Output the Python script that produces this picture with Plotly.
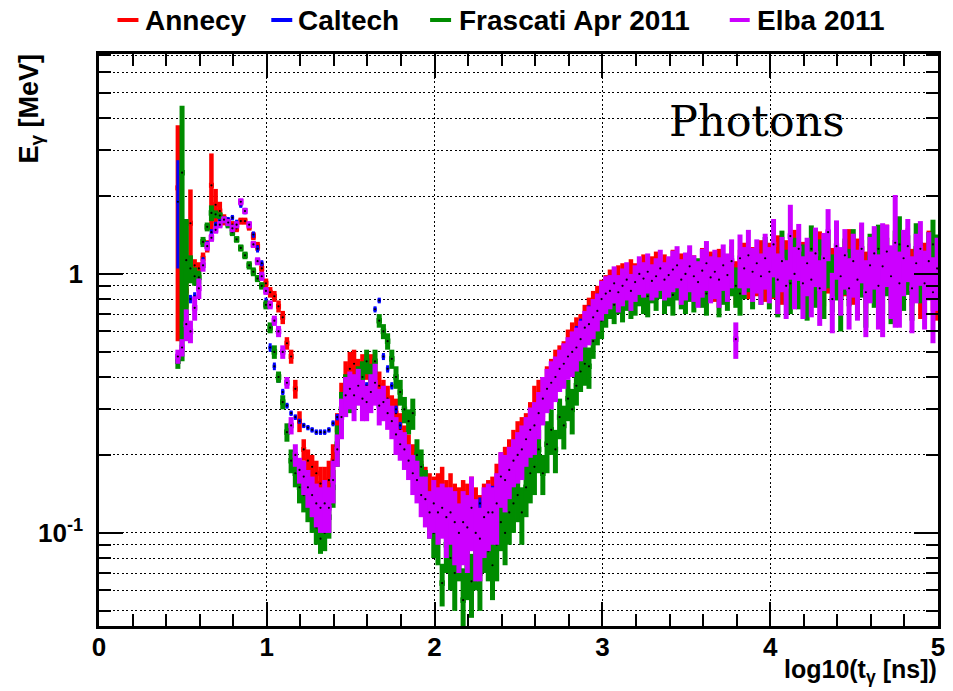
import plotly.graph_objects as go

# ---------------- data ----------------
# bin centres of log10(t [ns]) : 182 bins, 0.470 ... 4.995, step 0.025
X_START = 0.47
X_STEP = 0.025
N_BINS = 182
t_log = [round(X_START + X_STEP * i, 3) for i in range(N_BINS)]

series_names = ["Annecy", "Caltech", "Frascati Apr 2011", "Elba 2011"]

annecy_E = [
    2.15, 0.86, 0.86, 1.57, 1.08, 1.05, 1.15, 1.28, 2.20, 1.85,
    1.75, 1.62, 1.58, 1.55, 1.50, 1.60, 1.60, 1.52, 1.40, 1.28,
    1.05, 0.92, 0.85, 0.82, 0.75, 0.68, 0.54, 0.48, 0.36, 0.27,
    0.21, 0.19, 0.18, 0.17, 0.155, 0.15, 0.16, 0.19, 0.25, 0.33,
    0.40, 0.43, 0.45, 0.42, 0.43, 0.44, 0.43, 0.40, 0.37, 0.34,
    0.33, 0.30, 0.29, 0.25, 0.23, 0.21, 0.19, 0.17, 0.16, 0.15,
    0.14, 0.135, 0.14, 0.15, 0.13, 0.14, 0.125, 0.12, 0.13, 0.12,
    0.135, 0.12, 0.11, 0.125, 0.13, 0.135, 0.15, 0.17, 0.175, 0.19,
    0.21, 0.225, 0.23, 0.24, 0.27, 0.31, 0.33, 0.34, 0.37, 0.40,
    0.43, 0.45, 0.47, 0.52, 0.55, 0.58, 0.60, 0.66, 0.70, 0.74,
    0.78, 0.82, 0.86, 0.90, 0.88, 0.93, 0.95, 0.90, 0.98, 0.95,
    0.97, 1.02, 0.96, 1.00, 1.04, 0.97, 1.01, 0.98, 1.05, 0.99,
    1.02, 0.96, 1.04, 1.00, 0.97, 1.06, 0.99, 1.03, 0.95, 1.05,
    1.00, 0.98, 1.07, 0.94, 1.04, 1.10, 0.99, 1.06, 1.02, 1.12,
    1.00, 1.08, 1.03, 1.15, 0.98, 1.10, 1.05, 1.20, 1.00, 1.08,
    0.96, 1.12, 1.04, 1.18, 0.98, 1.10, 1.02, 1.15, 0.95, 1.08,
    1.20, 1.00, 1.10, 1.25, 0.98, 1.05, 1.15, 0.92, 1.10, 1.25,
    1.02, 1.15, 0.95, 1.08, 1.20, 1.00, 1.12, 0.90, 1.05, 1.18,
    0.96, 0.88,
]
annecy_err = [
    1.6, 0.11, 0.12, 0.55, 0.06, 0.06, 0.06, 0.07, 0.72, 0.28,
    0.15, 0.08, 0.05, 0.05, 0.05, 0.05, 0.05, 0.05, 0.05, 0.05,
    0.05, 0.04, 0.04, 0.04, 0.04, 0.04, 0.03, 0.03, 0.03, 0.025,
    0.02, 0.02, 0.02, 0.02, 0.025, 0.03, 0.03, 0.03, 0.04, 0.05,
    0.06, 0.07, 0.06, 0.05, 0.06, 0.05, 0.06, 0.06, 0.05, 0.05,
    0.04, 0.04, 0.04, 0.04, 0.03, 0.03, 0.03, 0.03, 0.03, 0.03,
    0.03, 0.03, 0.03, 0.03, 0.03, 0.03, 0.03, 0.03, 0.03, 0.035,
    0.03, 0.03, 0.03, 0.03, 0.03, 0.03, 0.035, 0.035, 0.04, 0.04,
    0.04, 0.045, 0.05, 0.05, 0.05, 0.06, 0.06, 0.06, 0.07, 0.07,
    0.08, 0.08, 0.08, 0.09, 0.10, 0.10, 0.10, 0.10, 0.11, 0.12,
    0.12, 0.13, 0.13, 0.14, 0.14, 0.15, 0.15, 0.14, 0.16, 0.15,
    0.16, 0.17, 0.16, 0.17, 0.18, 0.16, 0.18, 0.17, 0.19, 0.18,
    0.18, 0.17, 0.19, 0.18, 0.17, 0.20, 0.18, 0.19, 0.17, 0.20,
    0.19, 0.18, 0.21, 0.18, 0.20, 0.22, 0.19, 0.21, 0.20, 0.23,
    0.22, 0.24, 0.23, 0.26, 0.22, 0.25, 0.24, 0.28, 0.23, 0.25,
    0.22, 0.26, 0.24, 0.28, 0.23, 0.26, 0.24, 0.27, 0.22, 0.26,
    0.29, 0.24, 0.27, 0.30, 0.24, 0.26, 0.28, 0.23, 0.27, 0.30,
    0.25, 0.28, 0.24, 0.27, 0.30, 0.25, 0.28, 0.23, 0.27, 0.29,
    0.24, 0.22,
]

caltech_E = [
    1.90, 0.75, 0.78, 0.80, 0.82, 0.95, 1.12, 1.30, 1.45, 1.55,
    1.60, 1.62, 1.62, 1.65, 1.58, 1.85, 1.75, 1.55, 1.42, 1.25,
    1.10, 0.78, 0.52, 0.44, 0.39, 0.35, 0.31, 0.29, 0.28, 0.27,
    0.26, 0.255, 0.25, 0.245, 0.245, 0.245, 0.25, 0.265, 0.28, 0.30,
    0.33, 0.35, 0.36, 0.36, 0.36, 0.37, 0.36, 0.73, 0.79, 0.48,
    0.43, 0.37, 0.30, 0.26, 0.23, 0.20, 0.18, 0.16, 0.145, 0.135,
    0.125, 0.123, 0.12, 0.125, 0.12, 0.125, 0.12, 0.12, 0.12, 0.125,
    0.123, 0.125, 0.13, 0.135, 0.14, 0.145, 0.15, 0.16, 0.17, 0.18,
    0.19, 0.205, 0.22, 0.24, 0.27, 0.30, 0.32, 0.34, 0.36, 0.39,
    0.42, 0.45, 0.48, 0.52, 0.55, 0.60, 0.64, 0.68, 0.72, 0.76,
    0.80, 0.84, 0.86, 0.88, 0.90, 0.91, 0.92, 0.93, 0.94, 0.95,
    0.95, 0.96, 0.96, 0.97, 0.97, 0.97, 0.98, 0.98, 0.97, 0.99,
    0.98, 1.00, 0.99, 1.00, 0.98, 1.01, 1.00, 0.99, 1.01, 1.00,
    1.02, 1.00, 1.01, 0.99, 1.02, 1.00, 1.01, 1.03, 1.00, 1.02,
    1.01, 1.03, 1.00, 1.02, 1.01, 1.03, 1.00, 1.02, 1.04, 1.01,
    1.02, 1.00, 1.03, 1.01, 1.04, 1.02, 1.00, 1.03, 1.01, 1.02,
    1.04, 1.01, 1.02, 1.00, 1.03, 1.02, 1.04, 1.01, 1.02, 1.00,
    1.03, 1.01, 1.02, 1.04, 1.00, 1.02, 1.01, 1.03, 1.00, 1.02,
    1.01, 1.00,
]
caltech_err = [
    0.85, 0.04, 0.03, 0.03, 0.03, 0.03, 0.04, 0.04, 0.04, 0.04,
    0.04, 0.04, 0.04, 0.04, 0.04, 0.05, 0.05, 0.04, 0.04, 0.04,
    0.03, 0.03, 0.02, 0.015, 0.01, 0.01, 0.008, 0.007, 0.007, 0.006,
    0.006, 0.006, 0.006, 0.006, 0.006, 0.006, 0.006, 0.007, 0.008, 0.01,
    0.01, 0.012, 0.012, 0.012, 0.012, 0.012, 0.012, 0.02, 0.02, 0.015,
    0.014, 0.012, 0.01, 0.008, 0.007, 0.006, 0.006, 0.005, 0.005, 0.005,
    0.006, 0.006, 0.006, 0.006, 0.006, 0.006, 0.006, 0.006, 0.006, 0.006,
    0.006, 0.006, 0.007, 0.007, 0.007, 0.007, 0.008, 0.008, 0.009, 0.009,
    0.01, 0.01, 0.011, 0.012, 0.013, 0.015, 0.016, 0.017, 0.018, 0.02,
    0.021, 0.022, 0.024, 0.026, 0.028, 0.03, 0.032, 0.034, 0.036, 0.038,
    0.04, 0.04, 0.04, 0.04, 0.045, 0.045, 0.045, 0.045, 0.045, 0.045,
    0.05, 0.05, 0.05, 0.05, 0.05, 0.05, 0.05, 0.05, 0.05, 0.05,
    0.05, 0.05, 0.05, 0.05, 0.05, 0.05, 0.05, 0.05, 0.05, 0.05,
    0.05, 0.05, 0.05, 0.05, 0.05, 0.05, 0.05, 0.05, 0.05, 0.05,
    0.05, 0.05, 0.05, 0.05, 0.05, 0.05, 0.05, 0.05, 0.05, 0.05,
    0.05, 0.05, 0.05, 0.05, 0.05, 0.05, 0.05, 0.05, 0.05, 0.05,
    0.05, 0.05, 0.05, 0.05, 0.05, 0.05, 0.05, 0.05, 0.05, 0.05,
    0.05, 0.05, 0.05, 0.05, 0.05, 0.05, 0.05, 0.05, 0.05, 0.05,
    0.05, 0.05,
]

frascati_E = [
    0.46, 2.46, 1.13, 1.05, 0.98, 0.97, 1.33, 1.52, 1.72, 1.70,
    1.68, 1.62, 1.55, 1.45, 1.36, 1.26, 1.18, 1.08, 1.02, 0.96,
    0.90, 0.76, 0.62, 0.50, 0.40, 0.32, 0.245, 0.19, 0.17, 0.15,
    0.14, 0.13, 0.12, 0.105, 0.095, 0.10, 0.115, 0.15, 0.22, 0.30,
    0.36, 0.34, 0.35, 0.38, 0.40, 0.46, 0.40, 0.46, 0.66, 0.60,
    0.55, 0.47, 0.40, 0.35, 0.30, 0.27, 0.29, 0.20, 0.18, 0.15,
    0.12, 0.10, 0.10, 0.064, 0.09, 0.08, 0.07, 0.085, 0.055, 0.075,
    0.065, 0.08, 0.07, 0.09, 0.085, 0.075, 0.09, 0.11, 0.10, 0.12,
    0.13, 0.14, 0.12, 0.15, 0.17, 0.18, 0.21, 0.17, 0.22, 0.25,
    0.21, 0.28, 0.26, 0.33, 0.30, 0.37, 0.42, 0.45, 0.44, 0.55,
    0.62, 0.66, 0.74, 0.80, 0.76, 0.84, 0.77, 0.86, 0.80, 0.82,
    0.90, 0.84, 0.82, 0.92, 0.86, 0.96, 0.84, 0.90, 0.83, 0.95,
    0.88, 0.84, 0.94, 0.86, 0.98, 0.90, 0.84, 0.95, 1.02, 0.83,
    0.92, 0.88, 1.00, 0.90, 0.84, 0.98, 1.04, 0.90, 1.05, 0.95,
    1.15, 0.95, 1.05, 0.90, 1.20, 1.00, 0.92, 1.12, 0.96, 1.05,
    0.88, 1.25, 0.98, 1.10, 0.90, 1.15, 0.95, 1.05, 0.82, 1.10,
    1.00, 1.20, 0.92, 1.08, 0.85, 1.15, 1.00, 1.25, 0.95, 1.10,
    0.88, 1.18, 1.30, 0.98, 1.12, 0.90, 1.25, 1.05, 0.92, 1.15,
    1.30, 1.10,
]
frascati_err = [
    0.03, 2.0, 0.5, 0.13, 0.08, 0.06, 0.06, 0.06, 0.12, 0.06,
    0.05, 0.05, 0.05, 0.05, 0.04, 0.04, 0.04, 0.04, 0.04, 0.03,
    0.03, 0.03, 0.03, 0.03, 0.02, 0.02, 0.02, 0.02, 0.02, 0.02,
    0.02, 0.02, 0.02, 0.015, 0.012, 0.015, 0.02, 0.025, 0.04, 0.05,
    0.05, 0.05, 0.05, 0.06, 0.06, 0.05, 0.05, 0.05, 0.04, 0.04,
    0.04, 0.04, 0.04, 0.04, 0.035, 0.03, 0.04, 0.03, 0.03, 0.025,
    0.025, 0.02, 0.025, 0.012, 0.02, 0.02, 0.02, 0.02, 0.018, 0.02,
    0.018, 0.02, 0.02, 0.02, 0.02, 0.02, 0.025, 0.025, 0.025, 0.03,
    0.03, 0.03, 0.03, 0.035, 0.04, 0.04, 0.04, 0.03, 0.05, 0.05,
    0.04, 0.05, 0.05, 0.06, 0.06, 0.06, 0.07, 0.08, 0.08, 0.08,
    0.09, 0.10, 0.12, 0.13, 0.12, 0.14, 0.12, 0.14, 0.13, 0.13,
    0.15, 0.14, 0.14, 0.15, 0.14, 0.16, 0.14, 0.15, 0.14, 0.16,
    0.15, 0.14, 0.16, 0.15, 0.17, 0.16, 0.15, 0.17, 0.18, 0.15,
    0.16, 0.16, 0.18, 0.16, 0.15, 0.18, 0.19, 0.17, 0.20, 0.19,
    0.24, 0.22, 0.24, 0.22, 0.27, 0.24, 0.22, 0.26, 0.23, 0.25,
    0.22, 0.29, 0.24, 0.26, 0.23, 0.27, 0.24, 0.26, 0.22, 0.27,
    0.25, 0.29, 0.24, 0.27, 0.23, 0.28, 0.26, 0.30, 0.25, 0.28,
    0.24, 0.29, 0.37, 0.26, 0.29, 0.24, 0.32, 0.28, 0.25, 0.30,
    0.32, 0.32,
]

elba_E = [
    0.48, 0.52, 0.64, 0.60, 0.74, 0.88, 1.08, 1.28, 1.38, 1.48,
    1.55, 1.62, 1.58, 1.50, 1.55, 1.90, 1.75, 1.55, 1.30, 1.12,
    0.98, 0.86, 0.76, 0.66, 0.60, 0.50, 0.38, 0.26, 0.20, 0.175,
    0.165, 0.15, 0.14, 0.13, 0.125, 0.13, 0.125, 0.16, 0.21, 0.28,
    0.34, 0.36, 0.34, 0.37, 0.33, 0.32, 0.35, 0.38, 0.31, 0.32,
    0.29, 0.27, 0.24, 0.22, 0.21, 0.19, 0.17, 0.16, 0.14, 0.135,
    0.12, 0.13, 0.12, 0.125, 0.115, 0.12, 0.11, 0.10, 0.11, 0.105,
    0.125, 0.10, 0.095, 0.115, 0.12, 0.12, 0.13, 0.165, 0.16, 0.175,
    0.19, 0.20, 0.21, 0.23, 0.25, 0.26, 0.29, 0.33, 0.36, 0.38,
    0.40, 0.43, 0.45, 0.48, 0.50, 0.52, 0.56, 0.62, 0.64, 0.68,
    0.72, 0.80, 0.84, 0.86, 0.92, 0.85, 0.90, 0.95, 0.86, 0.93,
    1.00, 0.96, 1.02, 0.94, 0.98, 1.05, 0.95, 0.99, 1.04, 1.08,
    0.95, 1.00, 1.07, 0.98, 0.93, 1.03, 1.10, 0.97, 1.02, 0.95,
    1.08, 0.99, 1.12, 0.56, 1.15, 1.05, 1.18, 1.02, 1.10, 0.98,
    1.15, 1.02, 1.30, 0.95, 1.12, 0.90, 1.40, 1.00, 1.25, 0.92,
    1.10, 0.95, 1.20, 0.88, 1.15, 1.45, 0.80, 1.28, 0.98, 1.18,
    0.88, 1.12, 0.95, 1.25, 0.85, 1.08, 1.20, 0.90, 1.07, 1.22,
    0.98, 1.32, 0.92, 1.15, 1.28, 0.88, 1.10, 1.25, 0.92, 1.12,
    0.85, 1.05,
]
elba_err = [
    0.03, 0.04, 0.09, 0.06, 0.08, 0.08, 0.06, 0.05, 0.05, 0.05,
    0.05, 0.05, 0.05, 0.05, 0.05, 0.06, 0.05, 0.05, 0.04, 0.04,
    0.04, 0.03, 0.03, 0.03, 0.03, 0.03, 0.02, 0.02, 0.02, 0.02,
    0.025, 0.025, 0.025, 0.025, 0.025, 0.03, 0.025, 0.03, 0.03, 0.05,
    0.06, 0.06, 0.07, 0.06, 0.06, 0.05, 0.06, 0.07, 0.05, 0.05,
    0.04, 0.04, 0.04, 0.03, 0.035, 0.03, 0.03, 0.03, 0.025, 0.03,
    0.025, 0.03, 0.03, 0.03, 0.035, 0.03, 0.035, 0.03, 0.035, 0.035,
    0.04, 0.035, 0.03, 0.035, 0.035, 0.03, 0.04, 0.04, 0.04, 0.04,
    0.04, 0.045, 0.05, 0.05, 0.055, 0.06, 0.06, 0.07, 0.07, 0.08,
    0.08, 0.08, 0.09, 0.09, 0.10, 0.10, 0.10, 0.10, 0.11, 0.12,
    0.12, 0.14, 0.14, 0.13, 0.15, 0.14, 0.15, 0.16, 0.14, 0.15,
    0.17, 0.15, 0.18, 0.15, 0.17, 0.19, 0.16, 0.18, 0.19, 0.20,
    0.19, 0.21, 0.22, 0.20, 0.19, 0.22, 0.24, 0.20, 0.22, 0.21,
    0.22, 0.21, 0.24, 0.09, 0.27, 0.22, 0.30, 0.24, 0.26, 0.22,
    0.28, 0.25, 0.33, 0.25, 0.27, 0.23, 0.45, 0.27, 0.31, 0.25,
    0.28, 0.27, 0.31, 0.25, 0.29, 0.33, 0.21, 0.33, 0.29, 0.31,
    0.27, 0.31, 0.29, 0.33, 0.28, 0.31, 0.33, 0.29, 0.50, 0.33,
    0.31, 0.70, 0.30, 0.33, 0.35, 0.29, 0.33, 0.35, 0.31, 0.33,
    0.31, 0.33,
]

series_E = [annecy_E, caltech_E, frascati_E, elba_E]
series_err = [annecy_err, caltech_err, frascati_err, elba_err]
for arr in series_E + series_err:
    assert len(arr) == N_BINS, len(arr)

y_major_vals = [0.1, 1]
y_major_text = ["10<sup>-1</sup>", "1"]
y_minor_vals = [0.05, 0.06, 0.07, 0.08, 0.09, 0.2, 0.3, 0.4, 0.5, 0.6, 0.7, 0.8, 0.9,
                2, 3, 4, 5, 6, 7]

# ---------------- styling ----------------
colors = ["#ff0000", "#0000ff", "#008c00", "#cc00ff"]
sq_size = [5, 3.5, 5.5, 5.5]
bar_w = [4.5, 3, 5, 5]

# The page body adds an 8 px margin, so the figure is drawn 8 px smaller and
# all target pixel positions (measured in the 953x691 window) are shifted by it.
OFF = 8
W, H = 953 - OFF, 691 - OFF
FRAME_L, FRAME_R, FRAME_T, FRAME_B = 98.5, 938.5, 54, 626
L = FRAME_L - OFF
R = W - (FRAME_R - OFF)
T = FRAME_T - OFF
B = H - (FRAME_B - OFF)
PW, PH = W - L - R, H - T - B


def px(x):
    return (x - OFF - L) / PW


def py(y):
    return (H - B - (y - OFF)) / PH


FONT = "Liberation Sans, Arial, Helvetica, sans-serif"

fig = go.Figure()
for name, ys, es, col, ss, bw in zip(series_names, series_E, series_err, colors, sq_size, bar_w):
    fig.add_trace(go.Scatter(
        x=t_log, y=ys, mode="markers", name=name, showlegend=False,
        marker=dict(symbol="square", size=ss, color=col, line=dict(width=0)),
        error_y=dict(type="data", array=es, visible=True, color=col,
                     thickness=bw, width=0),
        hoverinfo="skip",
    ))
    fig.add_trace(go.Scatter(
        x=t_log, y=ys, mode="markers", showlegend=False,
        marker=dict(symbol="circle", size=2.2, color="black", line=dict(width=0)),
        hoverinfo="skip",
    ))

grid_dash = "2px,2.5px"

fig.update_layout(
    width=W, height=H,
    margin=dict(l=L, r=R, t=T, b=B, pad=0, autoexpand=False),
    paper_bgcolor="white", plot_bgcolor="white",
    showlegend=False,
    font=dict(family=FONT, color="black"),
    xaxis=dict(
        range=[0, 5], tick0=0, dtick=1, automargin=False,
        showline=True, linecolor="black", linewidth=2.5, mirror="allticks",
        ticks="inside", ticklen=24, tickwidth=2, tickcolor="black",
        showgrid=True, gridcolor="black", gridwidth=1, griddash=grid_dash,
        zeroline=False, ticklabelstandoff=-4,
        tickfont=dict(family=FONT, size=26, color="black", weight="bold"),
        minor=dict(dtick=0.2, ticks="inside", ticklen=12, tickwidth=2,
                   tickcolor="black", showgrid=False),
    ),
    yaxis=dict(
        type="log", range=[-1.3595, 0.8494], automargin=False,
        tickvals=y_major_vals, ticktext=y_major_text,
        showline=True, linecolor="black", linewidth=2.5, mirror="allticks",
        ticks="inside", ticklen=24, tickwidth=2, tickcolor="black",
        showgrid=True, gridcolor="black", gridwidth=1, griddash=grid_dash,
        zeroline=False, ticklabelstandoff=8,
        tickfont=dict(family=FONT, size=26, color="black", weight="bold"),
        minor=dict(tickvals=y_minor_vals, ticks="inside", ticklen=12, tickwidth=2,
                   tickcolor="black", showgrid=True, gridcolor="black",
                   gridwidth=1, griddash=grid_dash),
    ),
)

annotations = [
    dict(text="E<sub>γ</sub> [MeV]", x=px(30), y=py(109), xref="paper", yref="paper",
         textangle=-90, xanchor="center", yanchor="middle", showarrow=False,
         font=dict(family=FONT, size=27, color="black", weight="bold")),
    dict(text="log10(t<sub>γ</sub> [ns])", x=px(940), y=py(671), xref="paper", yref="paper",
         xanchor="right", yanchor="middle", showarrow=False,
         font=dict(family=FONT, size=25, color="black", weight="bold")),
    dict(text="Photons", x=px(757), y=py(121), xref="paper", yref="paper",
         xanchor="center", yanchor="middle", showarrow=False,
         font=dict(family="DejaVu Serif, serif", size=43, color="black")),
]

legend_line = [(117, 138), (271, 292), (430, 451), (730, 750)]
legend_text_x = [143, 296, 457, 755]
LEG_Y = 21
shapes = []
for name, col, (a, b), tx in zip(series_names, colors, legend_line, legend_text_x):
    shapes.append(dict(type="line", xref="paper", yref="paper",
                       x0=px(a), x1=px(b), y0=py(LEG_Y - 1), y1=py(LEG_Y - 1),
                       line=dict(color=col, width=4)))
    annotations.append(dict(text=name, x=px(tx), y=py(LEG_Y), xref="paper", yref="paper",
                            xanchor="left", yanchor="middle", showarrow=False,
                            font=dict(family=FONT, size=28, color="black", weight="bold")))

fig.update_layout(annotations=annotations, shapes=shapes)
fig.write_html("out.html")
